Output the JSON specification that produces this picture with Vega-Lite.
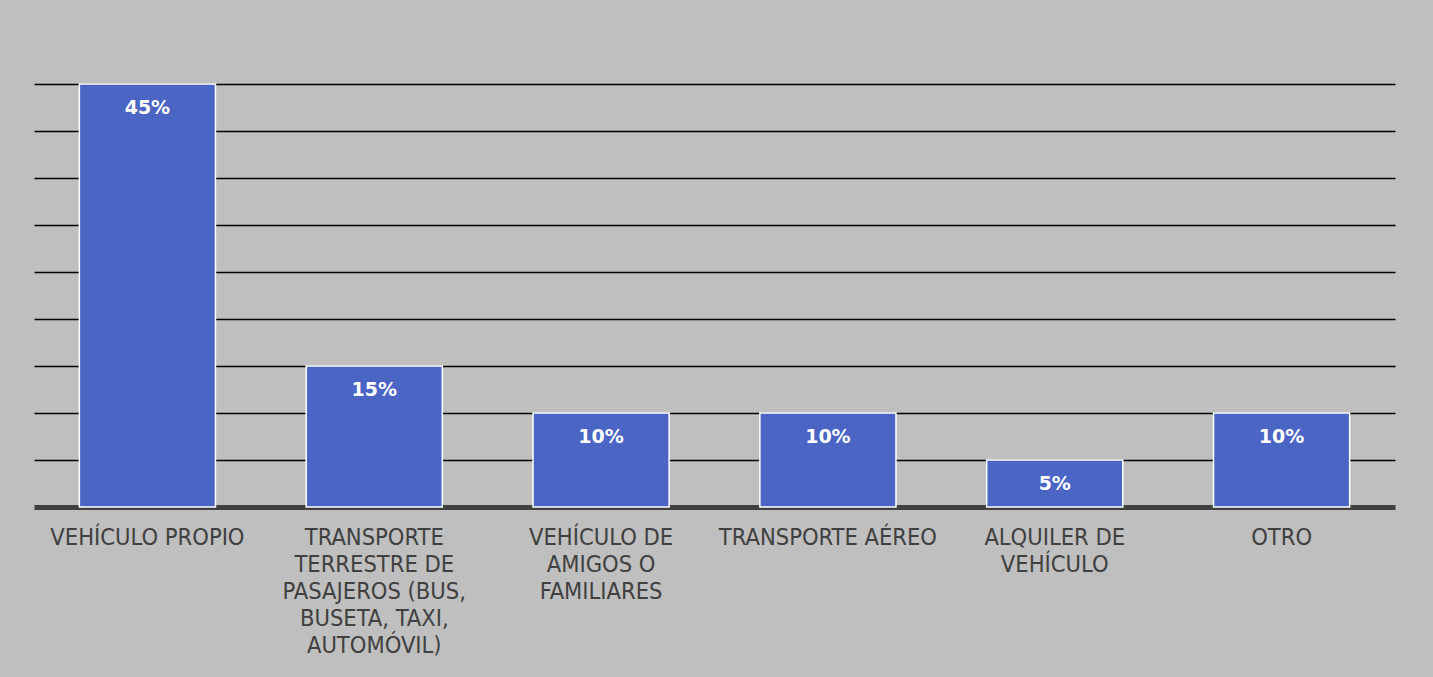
{
  "$schema": "https://vega.github.io/schema/vega-lite/v6.json",
  "width": 1361,
  "height": 423,
  "padding": {"left": 34, "top": 83, "right": 38, "bottom": 40},
  "background": "#BFBFBF",
  "config": {"view": {"stroke": null}, "font": "DejaVu Sans"},
  "data": {"values": [
    {"cat": "VEHÍCULO PROPIO", "v": 0.45},
    {"cat": "TRANSPORTE|TERRESTRE DE|PASAJEROS (BUS,|BUSETA, TAXI,|AUTOMÓVIL)", "v": 0.15},
    {"cat": "VEHÍCULO DE|AMIGOS O|FAMILIARES", "v": 0.10},
    {"cat": "TRANSPORTE AÉREO", "v": 0.10},
    {"cat": "ALQUILER DE|VEHÍCULO", "v": 0.05},
    {"cat": "OTRO", "v": 0.10}
  ]},
  "encoding": {
    "x": {"field": "cat", "type": "nominal", "sort": null,
      "scale": {"paddingInner": 0.4, "paddingOuter": 0.2},
      "axis": {"title": null, "labelAngle": 0, "labelExpr": "split(datum.label, '|')",
        "labelFont": "DejaVu Sans Condensed", "labelFontSize": 23.5, "labelColor": "#404040",
        "labelLineHeight": 27, "labelBaseline": "top", "labelPadding": 18, "ticks": false,
        "domainColor": "#404040", "domainWidth": 5, "labelLimit": 400}},
    "y": {"field": "v", "type": "quantitative",
      "scale": {"domain": [0, 0.45], "nice": false},
      "axis": {"title": null, "labels": false, "ticks": false, "domain": false,
        "values": [0.05, 0.1, 0.15, 0.2, 0.25, 0.3, 0.35, 0.4, 0.45],
        "gridColor": "#000000", "gridWidth": 1.5, "gridOpacity": 1}}
  },
  "layer": [
    {"mark": {"type": "bar", "color": "#4A65C4", "stroke": "#FFFFFF", "strokeWidth": 1.5}},
    {"mark": {"type": "text", "color": "#FFFFFF", "fontWeight": "bold", "fontSize": 19, "baseline": "middle", "dy": 24},
      "encoding": {"text": {"field": "v", "type": "quantitative", "format": ".0%"}}}
  ]
}
